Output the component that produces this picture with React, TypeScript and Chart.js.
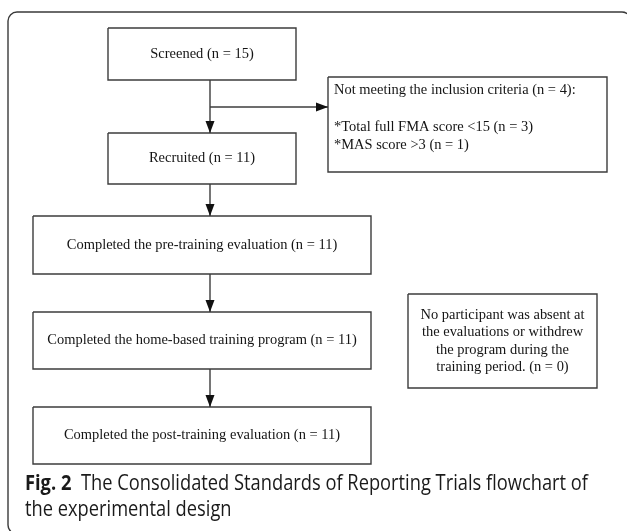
import React, { useEffect, useRef } from "react";
import { Chart, registerables } from "chart.js";

Chart.register(...registerables);

const W = 627;
const H = 531;

// ---- content ----
const stepLabels = [
  "Screened (n = 15)",
  "Recruited (n = 11)",
  "Completed the pre-training evaluation (n = 11)",
  "Completed the home-based training program (n = 11)",
  "Completed the post-training evaluation (n = 11)",
];
const exclusionLines = [
  "Not meeting the inclusion criteria (n = 4):",
  "",
  "*Total full FMA score <15 (n = 3)",
  "*MAS score >3 (n = 1)",
];
const noteLines = [
  "No participant was absent at",
  "the evaluations or withdrew",
  "the program during the",
  "training period. (n = 0)",
];
const captionLead = "Fig. 2";
const captionLines = [
  "The Consolidated Standards of Reporting Trials flowchart of",
  "the experimental design",
];

// ---- layout (in scale units = page pixels) : [left, right, top, bottom] ----
const stepBoxes = [
  [108, 296, 28, 80],
  [108, 296, 133, 184],
  [33, 371, 216, 274],
  [33, 371, 312, 369],
  [33, 371, 407, 464],
];
const exclusionBox = [328, 607, 77, 172];
const noteBox = [408, 597, 294, 388];
const spineX = 210;
const branchY = 107;

const LINE = "#3c3c3c";
const TEXT = "#141414";
const SERIF = "'Liberation Serif', 'Times New Roman', serif";
const SANS = "'Open Sans', 'Noto Sans', sans-serif";
const SERIF_SX = 0.965;

function rect(b: number[]) {
  const [l, r, t, bt] = b;
  return [
    { x: l, y: t },
    { x: r, y: t },
    { x: r, y: bt },
    { x: l, y: bt },
    { x: l, y: t },
  ];
}

export default function App() {
  const ref = useRef<HTMLCanvasElement | null>(null);

  useEffect(() => {
    document.body.style.margin = "0";
    const canvas = ref.current;
    if (!canvas) return;

    const datasets: any[] = [];
    const boxStyle = {
      showLine: true,
      borderColor: LINE,
      borderWidth: 1.4,
      pointRadius: 0,
      fill: false,
      tension: 0,
    };
    [...stepBoxes, exclusionBox, noteBox].forEach((b) => {
      datasets.push({ ...boxStyle, data: rect(b) });
    });
    for (let i = 0; i < stepBoxes.length - 1; i++) {
      datasets.push({
        ...boxStyle,
        arrow: true,
        data: [
          { x: spineX, y: stepBoxes[i][3] },
          { x: spineX, y: stepBoxes[i + 1][2] },
        ],
      });
    }
    datasets.push({
      ...boxStyle,
      arrow: true,
      data: [
        { x: spineX, y: branchY },
        { x: exclusionBox[0], y: branchY },
      ],
    });

    const drawText = (ctx: any, s: string, x: number, y: number, sx: number) => {
      ctx.save();
      ctx.translate(x, y);
      ctx.scale(sx, 1);
      ctx.fillText(s, 0, 0);
      ctx.restore();
    };

    const flowPlugin = {
      id: "flow",
      beforeDatasetsDraw(chart: any) {
        const { ctx, scales } = chart;
        const px = (v: number) => scales.x.getPixelForValue(v);
        const py = (v: number) => scales.y.getPixelForValue(v);
        ctx.save();
        ctx.strokeStyle = "#3a3a3a";
        ctx.lineWidth = 1.4;
        const r = 9;
        const fl = px(8), ft = py(12), fr = px(631), fb = py(534);
        ctx.beginPath();
        ctx.moveTo(fl + r, ft);
        ctx.lineTo(fr - r, ft);
        ctx.arcTo(fr, ft, fr, ft + r, r);
        ctx.lineTo(fr, fb - r);
        ctx.arcTo(fr, fb, fr - r, fb, r);
        ctx.lineTo(fl + r, fb);
        ctx.arcTo(fl, fb, fl, fb - r, r);
        ctx.lineTo(fl, ft + r);
        ctx.arcTo(fl, ft, fl + r, ft, r);
        ctx.closePath();
        ctx.stroke();
        ctx.restore();
      },
      afterDatasetsDraw(chart: any) {
        const { ctx, scales } = chart;
        const px = (v: number) => scales.x.getPixelForValue(v);
        const py = (v: number) => scales.y.getPixelForValue(v);
        ctx.save();
        // arrowheads
        ctx.fillStyle = "#111";
        chart.data.datasets.forEach((ds: any) => {
          if (!ds.arrow) return;
          const a = ds.data[ds.data.length - 2];
          const b = ds.data[ds.data.length - 1];
          const x1 = px(a.x), y1 = py(a.y), x2 = px(b.x), y2 = py(b.y);
          const ang = Math.atan2(y2 - y1, x2 - x1);
          const len = 12, half = 4.5;
          ctx.save();
          ctx.translate(x2, y2);
          ctx.rotate(ang);
          ctx.beginPath();
          ctx.moveTo(0, 0);
          ctx.lineTo(-len, -half);
          ctx.lineTo(-len, half);
          ctx.closePath();
          ctx.fill();
          ctx.restore();
        });

        // box texts
        ctx.fillStyle = TEXT;
        ctx.font = `15px ${SERIF}`;
        ctx.textBaseline = "middle";
        ctx.textAlign = "center";
        stepLabels.forEach((s, i) => {
          const [l, rr, t, b] = stepBoxes[i];
          drawText(ctx, s, px((l + rr) / 2), py((t + b) / 2), SERIF_SX);
        });
        ctx.textAlign = "left";
        exclusionLines.forEach((s, i) => {
          drawText(ctx, s, px(exclusionBox[0] + 6), py(90 + i * 18.5), SERIF_SX);
        });
        ctx.textAlign = "center";
        const ncx = (noteBox[0] + noteBox[1]) / 2;
        const ncy = (noteBox[2] + noteBox[3]) / 2;
        const sp = 17.4;
        noteLines.forEach((s, i) => {
          drawText(ctx, s, px(ncx), py(ncy + (i - (noteLines.length - 1) / 2) * sp), SERIF_SX);
        });

        // caption
        ctx.textAlign = "left";
        ctx.textBaseline = "alphabetic";
        ctx.fillStyle = "#1a1a1a";
        const fs = 21;
        const gap = 11;
        ctx.font = `700 ${fs}px ${SANS}`;
        const leadW = ctx.measureText(captionLead).width;
        ctx.font = `400 ${fs}px ${SANS}`;
        const l1W = ctx.measureText(captionLines[0]).width;
        const target = 563;
        const sx = target / (leadW + gap + l1W);
        const cx0 = px(25);
        ctx.save();
        ctx.translate(cx0, py(490));
        ctx.scale(sx, 1);
        ctx.font = `700 ${fs}px ${SANS}`;
        ctx.fillText(captionLead, 0, 0);
        ctx.font = `400 ${fs}px ${SANS}`;
        ctx.fillText(captionLines[0], leadW + gap, 0);
        ctx.restore();
        ctx.save();
        ctx.translate(cx0, py(516));
        ctx.scale(sx, 1);
        ctx.font = `400 ${fs}px ${SANS}`;
        ctx.fillText(captionLines[1], 0, 0);
        ctx.restore();

        ctx.restore();
      },
    };

    const chart = new Chart(canvas, {
      type: "scatter",
      data: { datasets },
      options: {
        animation: false,
        responsive: false,
        maintainAspectRatio: false,
        devicePixelRatio: 1,
        events: [],
        layout: { padding: 0 },
        scales: {
          x: { type: "linear", min: 0, max: W, display: false },
          y: { type: "linear", min: 0, max: H, reverse: true, display: false },
        },
        plugins: {
          legend: { display: false },
          tooltip: { enabled: false },
        },
      },
      plugins: [flowPlugin],
    } as any);

    return () => chart.destroy();
  }, []);

  return (
    <div style={{ width: W, height: H, background: "#fff" }}>
      <canvas ref={ref} width={W} height={H} style={{ display: "block" }} />
    </div>
  );
}
